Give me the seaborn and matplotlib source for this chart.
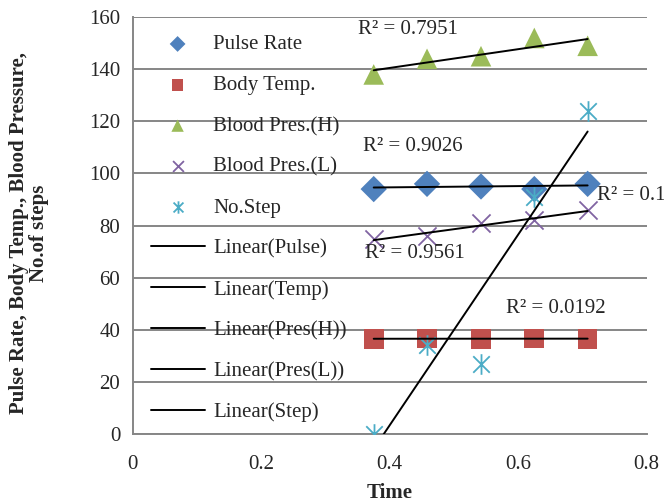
import matplotlib
matplotlib.use("Agg")
import matplotlib.pyplot as plt
from matplotlib.path import Path
import numpy as np
import pandas as pd
import seaborn as sns

# values
time = [0.375, 0.458, 0.542, 0.625, 0.708]
pulse_rate = [94, 96, 95, 94, 96]
body_temp = [36.5, 36.6, 36.5, 36.7, 36.5]
pres_high = [138, 144, 145, 152, 149]
pres_low = [75, 76, 81, 82, 86]
no_step = [0, 34, 27, 91, 124]

series_names = ["Pulse Rate", "Body Temp.", "Blood Pres.(H)", "Blood Pres.(L)", "No.Step"]
trend_names = ["Linear(Pulse)", "Linear(Temp)", "Linear(Pres(H))", "Linear(Pres(L))", "Linear(Step)"]
r2_labels = ["R² = 0.1", "R² = 0.0192", "R² = 0.7951", "R² = 0.9561", "R² = 0.9026"]
r2_pos = [(0.722, 91.5), (0.658, 48.3), (0.428, 155.3), (0.439, 69.4), (0.436, 110.2)]
r2_ha = ["left", "center", "center", "center", "center"]

x_ticks = [0, 0.2, 0.4, 0.6, 0.8]
x_tick_labels = ["0", "0.2", "0.4", "0.6", "0.8"]
y_ticks = [0, 20, 40, 60, 80, 100, 120, 140, 160]

colors = ["#4F81BD", "#C0504D", "#9BBB59", "#8064A2", "#4BACC6"]

# Excel style asterisk: an X with a vertical bar
asterisk = Path(
    [(0, -1), (0, 1), (-0.8, -0.8), (0.8, 0.8), (-0.8, 0.8), (0.8, -0.8)],
    [Path.MOVETO, Path.LINETO, Path.MOVETO, Path.LINETO, Path.MOVETO, Path.LINETO],
)
markers = ["D", "s", "^", "x", asterisk]
sizes = [180, 200, 220, 170, 220]

sns.set_theme(style="white")
plt.rcParams["font.family"] = ["Liberation Serif", "DejaVu Serif"]

fig = plt.figure(figsize=(6.64, 5.04), dpi=100)
ax = fig.add_axes([0.2, 0.139, 0.774, 0.827])

all_values = [pulse_rate, body_temp, pres_high, pres_low, no_step]
for name, vals, color, marker, size in zip(series_names, all_values, colors, markers, sizes):
    filled = marker in ("D", "s", "^")
    sns.scatterplot(
        x=time, y=vals, marker=marker, s=size, color=color,
        edgecolor=color if not filled else "none",
        linewidth=1.3 if not filled else 0,
        label=name, ax=ax, zorder=3,
    )

for name, vals in zip(trend_names, all_values):
    sns.regplot(
        x=np.array(time), y=np.array(vals), scatter=False, ci=None,
        color="black", line_kws={"linewidth": 1.4, "zorder": 4}, label=name, ax=ax,
    )

for text, (tx, ty), ha in zip(r2_labels, r2_pos, r2_ha):
    ax.text(tx, ty, text, fontsize=15, ha=ha, va="center", zorder=5, clip_on=False)

ax.set_xlim(0, 0.8)
ax.set_ylim(0, 160)
ax.set_xticks(x_ticks)
ax.set_xticklabels(x_tick_labels)
ax.set_yticks(y_ticks)
ax.tick_params(axis="both", labelsize=15, length=0)
ax.tick_params(axis="x", pad=15)
ax.tick_params(axis="y", pad=9)
ax.grid(axis="y", color="#868686", linewidth=1.4)
ax.set_axisbelow(True)
for side in ["top", "right"]:
    ax.spines[side].set_visible(False)
for side in ["left", "bottom"]:
    ax.spines[side].set_color("#868686")
    ax.spines[side].set_linewidth(1.4)

ax.set_xlabel("Time", fontsize=15, fontweight="bold", labelpad=7)
ax.set_ylabel("Pulse Rate, Body Temp., Blood Pressure,\nNo.of steps", fontsize=15,
              fontweight="bold", linespacing=1.0)
ax.yaxis.set_label_coords(-0.163, 0.482)

handles, labels = ax.get_legend_handles_labels()
order = series_names + trend_names
lookup = dict(zip(labels, handles))
ax.legend([lookup[k] for k in order], order, loc="upper left", bbox_to_anchor=(0.0, 1.0),
          frameon=False, fontsize=15, labelspacing=1.02, handlelength=2.6,
          handletextpad=0.4, borderaxespad=0.45, markerscale=0.6)

fig.savefig("out.png", dpi=100)
